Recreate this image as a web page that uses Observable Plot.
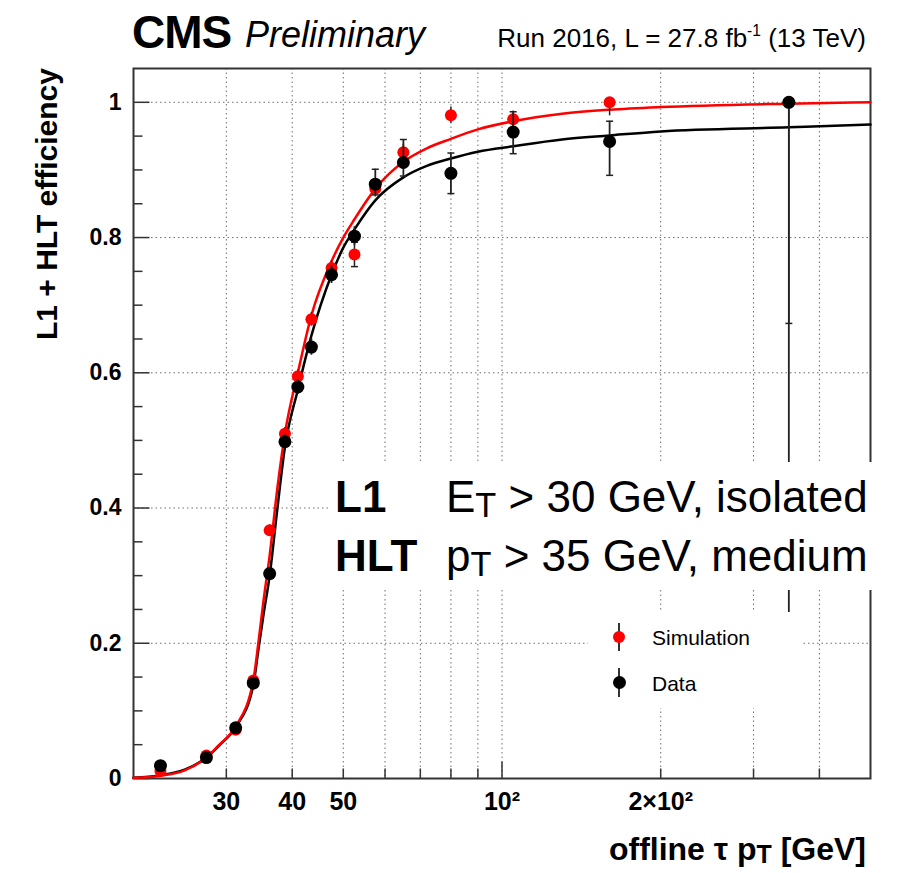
<!DOCTYPE html>
<html>
<head>
<meta charset="utf-8">
<script src="https://cdn.jsdelivr.net/npm/d3@7"></script>
<script src="https://cdn.jsdelivr.net/npm/@observablehq/plot@0.6"></script>
<style>
  html, body { margin: 0; padding: 0; background: #fff; }
  #wrap { position: relative; width: 903px; height: 873px; font-family: "Liberation Sans", Arial, Helvetica, sans-serif; color: #000; overflow: hidden; }
  #wrap svg { position: absolute; left: 0; top: 0; }
  .t { position: absolute; line-height: 1; white-space: nowrap; }
  .sub { font-size: 0.78em; position: relative; top: 0.14em; }
</style>
</head>
<body>
<div id="wrap">
  <div class="t" style="left:132px; top:9px; font-size:46px; font-weight:bold; letter-spacing:-1px;">CMS</div>
  <div class="t" style="left:245px; top:17px; font-size:36px; font-style:italic;">Preliminary</div>
  <div class="t" style="right:37px; top:25px; font-size:26px;">Run 2016, L = 27.8 fb<span style="font-size:0.6em; position:relative; top:-0.7em;">-1</span> (13 TeV)</div>
</div>
<script>
// ---- data ----
const ptBins   = [22.5, 27.5, 31.25, 33.75, 36.25, 38.75, 41, 43.5, 47.5, 52.5, 57.5, 65, 80, 105, 160, 350];
const effData  = [0.019, 0.031, 0.075, 0.141, 0.303, 0.498, 0.579, 0.638, 0.745, 0.802, 0.879, 0.911, 0.895, 0.956, 0.942, 1.0];
const errDataLo = [0.004, 0.004, 0.005, 0.007, 0.009, 0.010, 0.011, 0.012, 0.013, 0.014, 0.016, 0.020, 0.030, 0.032, 0.050, 0.755];
const errDataHi = [0.004, 0.004, 0.005, 0.007, 0.009, 0.010, 0.011, 0.012, 0.013, 0.014, 0.022, 0.034, 0.030, 0.030, 0.030, 0.0];
const effSim   = [0.011, 0.034, 0.072, 0.145, 0.367, 0.510, 0.595, 0.679, 0.755, 0.775, 0.872, 0.926, 0.981, 0.975, 1.0, 1.0];
const errSimLo = [0.002, 0.003, 0.004, 0.006, 0.008, 0.009, 0.009, 0.010, 0.010, 0.018, 0.012, 0.012, 0.012, 0.012, 0.020, 0.327];
const errSimHi = [0.002, 0.003, 0.004, 0.006, 0.008, 0.009, 0.009, 0.010, 0.010, 0.018, 0.012, 0.012, 0.012, 0.012, 0.0, 0.0];

// fitted turn-on curves
const curveX   = [20, 22.5, 25, 27.5, 29, 31.25, 33.75, 34.5, 35.25, 36.25, 37.5, 38.75, 41, 43.5, 47.5, 50, 52.5, 57.5, 65, 72, 80, 90, 105, 130, 160, 200, 350, 500];
const fitData  = [0.001, 0.005, 0.013, 0.031, 0.048, 0.076, 0.138, 0.19, 0.24, 0.30, 0.40, 0.49, 0.575, 0.655, 0.745, 0.785, 0.812, 0.855, 0.889, 0.906, 0.917, 0.927, 0.935, 0.945, 0.951, 0.957, 0.963, 0.967];
const fitSim   = [0.001, 0.004, 0.012, 0.031, 0.049, 0.077, 0.145, 0.20, 0.26, 0.33, 0.43, 0.51, 0.60, 0.685, 0.765, 0.80, 0.827, 0.872, 0.912, 0.932, 0.946, 0.960, 0.972, 0.983, 0.989, 0.993, 0.998, 1.0];

// axes
const xDomain = [20, 500];
const yDomain = [0, 1.05];
const xGridVals = [30, 40, 50, 60, 70, 80, 90, 100, 200, 300, 400];
const xLongTicks = [100];
const xShortTicks = [30, 40, 50, 60, 70, 80, 90, 200, 300, 400];
const xLabelVals = [30, 40, 50, 100, 200];
const xLabelText = ["30", "40", "50", "10²", "2×10²"];
const yMajor = [0, 0.2, 0.4, 0.6, 0.8, 1.0];
const yLabelText = ["0", "0.2", "0.4", "0.6", "0.8", "1"];
const yMinor = [0.05, 0.1, 0.15, 0.25, 0.3, 0.35, 0.45, 0.5, 0.55, 0.65, 0.7, 0.75, 0.85, 0.9, 0.95];
const yGridVals = [0.2, 0.4, 0.6, 0.8, 1.0];

// ---- build tables ----
const dataPts = ptBins.map((x, i) => ({x, y: effData[i], lo: effData[i] - errDataLo[i], hi: effData[i] + errDataHi[i]}));
const simPts  = ptBins.map((x, i) => ({x, y: effSim[i], lo: effSim[i] - errSimLo[i], hi: effSim[i] + errSimHi[i]}));
const dataCurve = curveX.map((x, i) => ({x, y: fitData[i]}));
const simCurve  = curveX.map((x, i) => ({x, y: fitSim[i]}));
const xLabelMap = new Map(xLabelVals.map((v, i) => [v, xLabelText[i]]));
const yLabelMap = new Map(yMajor.map((v, i) => [v, yLabelText[i]]));

const tickSym = (dx, dy) => ({draw(ctx) { ctx.moveTo(0, 0); ctx.lineTo(dx, dy); }});
const capSym = {draw(ctx) { ctx.moveTo(-3.5, 0); ctx.lineTo(3.5, 0); }};
const errCaps = (pts) => pts.filter(d => d.hi - d.lo > 0.03).flatMap(d => [{x: d.x, y: d.lo}, {x: d.x, y: d.hi}]);

const tickColor = "#333";
const gridStyle = {stroke: "#555", strokeOpacity: 0.85, strokeWidth: 1, strokeDasharray: "1.5,3"};

const chart = Plot.plot({
  width: 903,
  height: 873,
  marginLeft: 133,
  marginRight: 33,
  marginTop: 68,
  marginBottom: 95,
  style: {fontFamily: "'Liberation Sans', Arial, Helvetica, sans-serif", background: "transparent", color: "#000"},
  x: {type: "log", domain: xDomain},
  y: {domain: yDomain},
  marks: [
    Plot.gridX(xGridVals, gridStyle),
    Plot.gridY(yGridVals, gridStyle),
    Plot.frame({stroke: "#333", strokeWidth: 2}),
    Plot.dot(yMajor, {y: d => d, frameAnchor: "left", symbol: tickSym(16, 0), r: 4, fill: "none", stroke: tickColor, strokeWidth: 1.5}),
    Plot.dot(yMinor, {y: d => d, frameAnchor: "left", symbol: tickSym(9, 0), r: 4, fill: "none", stroke: tickColor, strokeWidth: 1.5}),
    Plot.dot(xShortTicks, {x: d => d, frameAnchor: "bottom", symbol: tickSym(0, -10), r: 4, fill: "none", stroke: tickColor, strokeWidth: 1.5}),
    Plot.dot(xLongTicks, {x: d => d, frameAnchor: "bottom", symbol: tickSym(0, -17), r: 4, fill: "none", stroke: tickColor, strokeWidth: 1.5}),
    Plot.axisY(yMajor, {anchor: "left", tickSize: 0, tickPadding: 12, tickFormat: d => yLabelMap.get(d), fontSize: 23, fontWeight: "bold", label: null}),
    Plot.axisX(xLabelVals, {anchor: "bottom", tickSize: 0, tickPadding: 14, tickFormat: d => xLabelMap.get(d), fontSize: 25, fontWeight: "bold", label: null}),
    Plot.line(dataCurve, {x: "x", y: "y", curve: "monotone-x", stroke: "#000", strokeWidth: 2.5}),
    Plot.line(simCurve, {x: "x", y: "y", curve: "monotone-x", stroke: "#ff0000", strokeWidth: 2.5}),
    Plot.ruleX(simPts, {x: "x", y1: "lo", y2: "hi", stroke: "#222", strokeWidth: 1.5}),
    Plot.dot(errCaps(simPts), {x: "x", y: "y", symbol: capSym, r: 4, fill: "none", stroke: "#222", strokeWidth: 1.5}),
    Plot.dot(simPts, {x: "x", y: "y", r: 6, fill: "#ff0000", stroke: "none"}),
    Plot.ruleX(dataPts, {x: "x", y1: "lo", y2: "hi", stroke: "#222", strokeWidth: 1.8}),
    Plot.dot(errCaps(dataPts), {x: "x", y: "y", symbol: capSym, r: 4, fill: "none", stroke: "#222", strokeWidth: 1.5}),
    Plot.dot(dataPts, {x: "x", y: "y", r: 6.5, fill: "#000", stroke: "none"})
  ]
});

const wrap = document.getElementById("wrap");
wrap.insertBefore(chart, wrap.firstChild);

// overlays (axis titles, annotation, legend)
wrap.insertAdjacentHTML("beforeend", `
  <div class="t" style="left:47px; top:68px; font-size:30px; font-weight:bold; transform-origin:0 0; transform: rotate(-90deg) translate(-100%, -50%);">L1 + HLT efficiency</div>
  <div class="t" style="right:37px; top:833px; font-size:32px; font-weight:bold;">offline τ p<span class="sub">T</span> [GeV]</div>
  <div style="position:absolute; left:328px; top:462px; width:575px; height:128px; background:#fff;"></div>
  <div class="t" style="left:335px; top:475px; font-size:44px; font-weight:bold;">L1</div>
  <div class="t" style="left:446px; top:475px; font-size:44px;">E<span class="sub">T</span> &gt; 30 GeV, isolated</div>
  <div class="t" style="left:335px; top:534px; font-size:44px; font-weight:bold;">HLT</div>
  <div class="t" style="left:446px; top:534px; font-size:44px;">p<span class="sub">T</span> &gt; 35 GeV, medium</div>
  <div style="position:absolute; left:588px; top:612px; width:215px; height:96px; background:#fff;"></div>
  <div style="position:absolute; left:618px; top:623px; width:1.5px; height:28px; background:#333;"></div>
  <div style="position:absolute; left:613px; top:631px; width:12px; height:12px; border-radius:50%; background:#ff0000;"></div>
  <div class="t" style="left:652px; top:627px; font-size:21px;">Simulation</div>
  <div style="position:absolute; left:618px; top:668px; width:1.5px; height:29px; background:#333;"></div>
  <div style="position:absolute; left:612.5px; top:676px; width:13px; height:13px; border-radius:50%; background:#000;"></div>
  <div class="t" style="left:652px; top:673px; font-size:21px;">Data</div>
`);
</script>
</body>
</html>
